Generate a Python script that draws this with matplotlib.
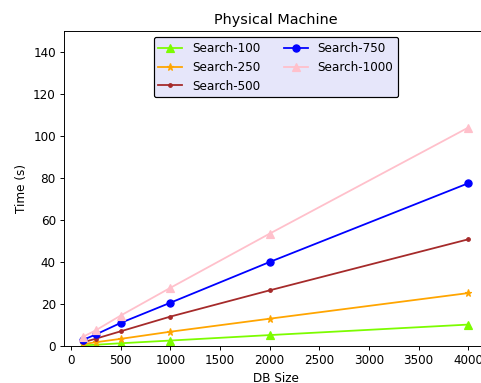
import matplotlib
matplotlib.use("Agg")
import matplotlib.pyplot as plt

db_sizes = [125, 250, 500, 1000, 2000, 4000]
search_100 = [0.3, 0.6, 1.3, 2.6, 5.2, 10.2]
search_250 = [0.9, 1.8, 3.4, 6.8, 13.0, 25.2]
search_500 = [1.8, 3.5, 7.0, 14.0, 26.5, 50.8]
search_750 = [3.0, 5.5, 11.0, 20.6, 40.0, 77.5]
search_1000 = [4.5, 7.5, 14.5, 27.7, 53.5, 104.0]

series = [
    ("Search-100", search_100, "lawngreen", "^"),
    ("Search-250", search_250, "orange", "*"),
    ("Search-500", search_500, "brown", "."),
    ("Search-750", search_750, "blue", "o"),
    ("Search-1000", search_1000, "pink", "^"),
]

DPI = 86
fig = plt.figure(figsize=(481 / DPI, 383 / DPI), dpi=DPI)
ax = fig.add_axes([0.1335, 0.0966, 0.88, 0.8225])
for label, vals, color, marker in series:
    ax.plot(db_sizes, vals, color=color, marker=marker, label=label)

ax.set_ylim(0, 150)
ax.set_xticks(range(0, 4001, 500))
ax.set_title("Physical Machine")
ax.set_xlabel("DB Size")
ax.set_ylabel("Time (s)")
leg = ax.legend(loc="upper center", ncol=2, facecolor="#e6e6fa", edgecolor="black", framealpha=1)
fig.savefig("out.png", dpi=DPI)
